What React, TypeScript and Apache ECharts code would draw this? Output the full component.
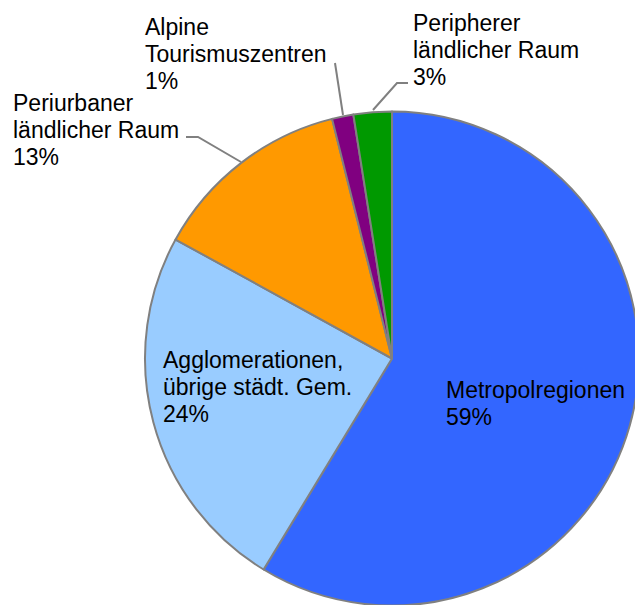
import React, { useEffect, useRef } from "react";
import * as echarts from "echarts";

const categories = [
  "Metropolregionen",
  "Agglomerationen,\nübrige städt. Gem.",
  "Periurbaner\nländlicher Raum",
  "Alpine\nTourismuszentren",
  "Peripherer\nländlicher Raum",
];
const values = [58.7, 24.3, 13.1, 1.4, 2.5];
const colors = ["#3366FF", "#99CCFF", "#FF9900", "#800080", "#009900"];

// label block anchors (left x, middle y) and leader-line bends
const labelAnchors: [number, number][] = [
  [446, 403],
  [163, 387],
  [13, 130],
  [145, 54],
  [413, 50],
];
const leaderLines: (number[][] | null)[] = [
  null,
  null,
  [[241, 162], [198, 137], [186, 137]],
  [[343, 115], [335, 63]],
  [[373, 110], [397, 83], [408, 83]],
];

export default function App() {
  const ref = useRef<HTMLDivElement>(null);
  useEffect(() => {
    document.body.style.margin = "0";
    const chart = echarts.init(ref.current!, null, { renderer: "svg" });
    chart.setOption({
      animation: false,
      backgroundColor: "#ffffff",
      series: [
        {
          type: "pie",
          center: [392, 358.5],
          radius: [0, 247],
          startAngle: 90,
          clockwise: true,
          percentPrecision: 0,
          avoidLabelOverlap: false,
          itemStyle: { borderColor: "#808080", borderWidth: 2 },
          label: {
            show: true,
            formatter: "{b}\n{d}%",
            fontFamily: "Liberation Sans, Arial, sans-serif",
            fontSize: 23,
            lineHeight: 27,
            color: "#000000",
          },
          labelLine: {
            show: true,
            lineStyle: { color: "#808080", width: 2 },
          },
          labelLayout: (params: any) => {
            const i = params.dataIndex;
            const [x, y] = labelAnchors[i];
            const res: any = { x, y, align: "left", verticalAlign: "middle" };
            if (leaderLines[i]) res.labelLinePoints = leaderLines[i];
            return res;
          },
          data: categories.map((name, i) => ({
            name,
            value: values[i],
            itemStyle: { color: colors[i] },
            labelLine: { show: !!leaderLines[i] },
          })),
        },
      ],
    });
    return () => chart.dispose();
  }, []);
  return <div ref={ref} style={{ width: 635, height: 605 }} />;
}
